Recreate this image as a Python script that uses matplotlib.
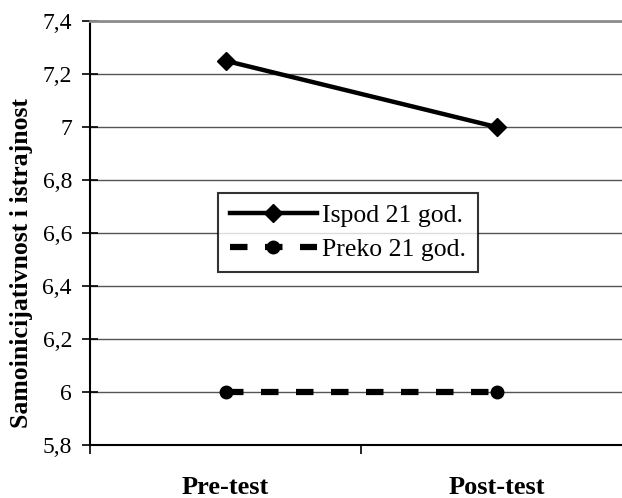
import matplotlib.pyplot as plt
from matplotlib.ticker import FixedLocator, FuncFormatter

plt.rcParams['font.family'] = ['Liberation Serif', 'DejaVu Serif']

categories = ["Pre-test", "Post-test"]
ispod_21 = [7.25, 7.0]
preko_21 = [6.0, 6.0]
y_ticks = [5.8, 6.0, 6.2, 6.4, 6.6, 6.8, 7.0, 7.2, 7.4]

fig = plt.figure(figsize=(6.22, 4.98), dpi=100)
ax = fig.add_axes([90 / 622, 1 - 445 / 498, 542 / 622, 424 / 498])

x = list(range(len(categories)))
ax.plot(x, ispod_21, color='black', lw=3.2, marker='D', markersize=9.5,
        label="Ispod 21 god.", zorder=3)
ax.plot(x, preko_21, color='black', lw=4.5, dashes=(2.8, 2.8), marker='o',
        markersize=9, label="Preko 21 god.", zorder=3)

ax.set_xlim(-0.5, 1.5)
ax.set_ylim(5.8, 7.4)
ax.set_yticks(y_ticks)
ax.yaxis.set_major_formatter(FuncFormatter(
    lambda v, p: ("%g" % round(v, 1)).replace('.', ',')))
ax.grid(axis='y', color='#555555', lw=1)
ax.set_axisbelow(True)

ax.set_xticks(x)
ax.set_xticklabels(categories, fontsize=19, fontweight='bold')
ax.tick_params(axis='x', which='major', length=0, pad=22)
ax.xaxis.set_minor_locator(FixedLocator([-0.5, 0.5, 1.5]))
ax.tick_params(axis='x', which='minor', length=6.5, width=1.2, direction='out')
ax.tick_params(axis='y', labelsize=17, length=12, width=1.2, direction='inout', pad=7)

ax.set_ylabel("Samoinicijativnost i istrajnost", fontsize=18.5, fontweight='bold')
ax.yaxis.set_label_coords(-0.106, (445 - 263) / 424)

ax.spines['right'].set_visible(False)
ax.spines['top'].set_color('#8c8c8c')
ax.spines['top'].set_linewidth(2)
ax.spines['left'].set_linewidth(1.5)
ax.spines['bottom'].set_linewidth(1.5)

leg = ax.legend(loc='center', bbox_to_anchor=(0.476, 0.501), fontsize=18.5,
                frameon=True, fancybox=False, handlelength=3.4,
                handletextpad=0.2, borderpad=0.45, labelspacing=0.4,
                borderaxespad=0)
leg.get_frame().set_edgecolor('black')
leg.get_frame().set_linewidth(1.5)

fig.savefig("out.png", dpi=100)
